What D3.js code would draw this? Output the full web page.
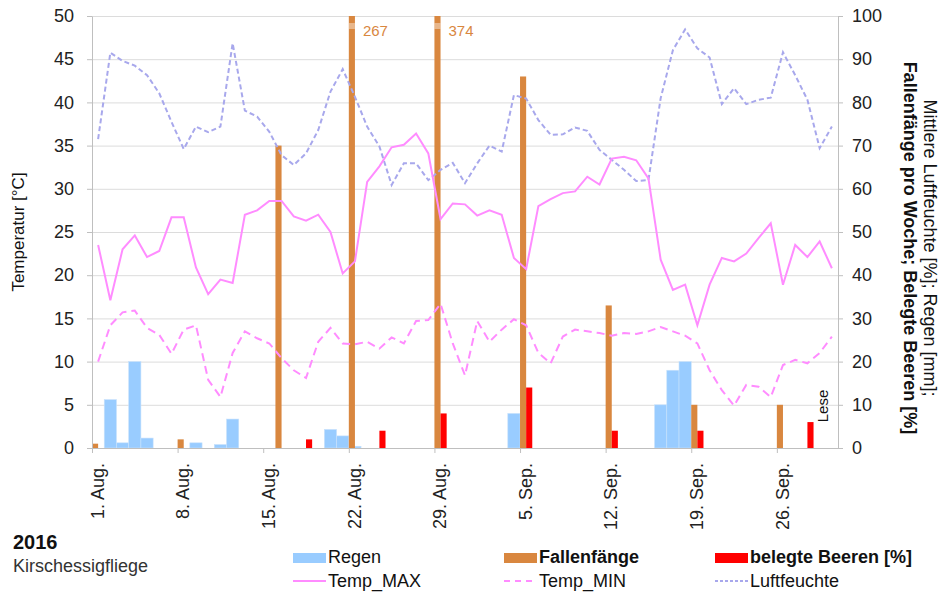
<!DOCTYPE html>
<html>
<head>
<meta charset="utf-8">
<script src="https://cdn.jsdelivr.net/npm/d3@7"></script>
<style>
  body { margin: 0; background: #fff; }
  text { font-family: "Liberation Sans", Arial, sans-serif; }
</style>
</head>
<body>
<script>
// Kirschessigfliege 2016 - daily weather + weekly trap catches

const dayCount = 61; // 1. Aug. .. 30. Sep.
const tickDays = [0, 7, 14, 21, 28, 35, 42, 49, 56];
const tickLabels = ["1. Aug.", "8. Aug.", "15. Aug.", "22. Aug.", "29. Aug.",
  "5. Sep.", "12. Sep.", "19. Sep.", "26. Sep."];

// rain [mm] per day
const regen = [0, 11.2, 1.2, 20, 2.3, 0, 0, 0, 1.2, 0, 0.8, 6.7, 0, 0, 0, 0,
  0, 0, 0, 4.3, 2.8, 0.4, 0, 0, 0, 0, 0, 0, 0, 0, 0, 0, 0, 0, 8, 0, 0, 0, 0, 0,
  0, 0, 0, 0, 0, 0, 10, 18, 20, 0, 0, 0, 0, 0, 0, 0, 0, 0, 0, 0, 0];

// trap catches per week
const trapDays = [0, 7, 15, 21, 28, 35, 42, 49, 56];
const trapCounts = [1, 2, 70, 267, 374, 86, 33, 10, 10];

// infested berries [%]
const berryDays = [17, 23, 28, 35, 42, 49, 58];
const berryPct = [2, 4, 8, 14, 4, 4, 6];

const tempMax = [23.5, 17.1, 23.0, 24.6, 22.1, 22.8, 26.7, 26.7, 20.9, 17.8,
  19.5, 19.1, 27.0, 27.5, 28.6, 28.6, 26.8, 26.3, 27.0, 25.0,
  20.2, 21.6, 30.8, 32.6, 34.8, 35.1, 36.4, 34.1, 26.5, 28.3,
  28.2, 26.9, 27.5, 27.0, 22.0, 20.7, 28.0, 28.8, 29.5, 29.7,
  31.4, 30.5, 33.5, 33.7, 33.3, 31.2, 21.8, 18.3, 18.9, 14.2,
  18.9, 22.0, 21.6, 22.5, 24.3, 26.0, 18.9, 23.5, 22.1, 23.9, 20.8];

const tempMin = [10.0, 14.2, 15.7, 15.9, 13.9, 13.1, 10.9, 13.7, 14.2, 7.9, 5.9,
  11.0, 13.5, 12.7, 12.1, 10.4, 9.0, 8.1, 12.3, 13.9, 12.1, 12.0,
  12.3, 11.5, 12.8, 12.1, 14.7, 14.8, 16.7, 12.1, 8.4, 14.7, 12.3,
  13.7, 14.9, 14.2, 11.0, 9.8, 12.9, 13.7, 13.5, 13.3, 13.0, 13.3,
  13.2, 13.5, 14.0, 13.5, 13.0, 12.1, 9.0, 6.7, 4.9, 7.3, 7.1,
  5.9, 9.6, 10.2, 9.8, 11.0, 12.9];

const luftfeuchte = [71.5, 91.5, 89.6, 88.5, 86.3, 82.1, 75.5, 69.2, 74.4, 73.1, 74.4,
  93.7, 78.1, 76.7, 73.2, 67.8, 65.5, 68.2, 73.6, 82.5, 87.7, 81.3,
  74.4, 69.8, 60.9, 65.9, 65.9, 62.0, 64.4, 66.0, 61.3, 65.9, 70.0,
  68.6, 81.7, 80.9, 75.9, 72.5, 72.6, 74.2, 73.4, 69.0, 66.7, 64.4,
  61.8, 62.0, 81.0, 92.1, 96.9, 92.5, 90.4, 79.6, 83.3, 79.6, 80.6,
  81.1, 91.6, 86.3, 80.6, 69.4, 74.4];

const w = 942;
const h = 592;
const plotLeft = 92, plotRight = 838, plotTop = 16, plotBottom = 448;

const cBlue = "#99ccff", cOrange = "#d9873f", cRed = "#ff0000";
const cPink = "#ff8cff", cLav = "#a8a8ec";

const svg = d3.select("body").append("svg").attr("width", w).attr("height", h);

const days = d3.range(dayCount);
const xBand = d3.scaleBand().domain(days).range([plotLeft, plotRight]).padding(0);
const xDay = d3.scaleLinear().domain([0, dayCount]).range([plotLeft, plotRight]);
const sub = d3.scaleBand().domain(["trap", "berry"]).range([0, xBand.bandwidth()]);
const yT = d3.scaleLinear().domain([0, 50]).range([plotBottom, plotTop]);
const yR = d3.scaleLinear().domain([0, 100]).range([plotBottom, plotTop]);

// gridlines
svg.append("g")
  .attr("transform", `translate(${plotLeft},0)`)
  .call(d3.axisLeft(yT).tickValues(d3.range(0, 51, 5)).tickSize(-(plotRight - plotLeft)).tickFormat(""))
  .call(g => g.select(".domain").remove())
  .call(g => g.selectAll("line").attr("stroke", "#dcdcdc"));

// rain bars
svg.append("g").selectAll("rect")
  .data(days.filter(i => regen[i] > 0))
  .join("rect")
  .attr("x", i => xBand(i))
  .attr("width", xBand.bandwidth())
  .attr("y", i => yR(regen[i]))
  .attr("height", i => plotBottom - yR(regen[i]))
  .attr("fill", cBlue)
  .attr("stroke", "#c8e2fc")
  .attr("stroke-width", 0.6);

// trap bars (clipped at 100 with break marks)
const trapG = svg.append("g");
trapDays.forEach((d, k) => {
  const v = trapCounts[k];
  const x0 = xBand(d) + sub("trap");
  const bw = sub.bandwidth();
  trapG.append("rect")
    .attr("x", x0).attr("width", bw)
    .attr("y", yR(Math.min(v, 100)))
    .attr("height", plotBottom - yR(Math.min(v, 100)))
    .attr("fill", cOrange);
  if (v > 100) {
    [24, 26, 28].forEach(yy => {
      trapG.append("line")
        .attr("x1", x0).attr("x2", x0 + bw)
        .attr("y1", yy).attr("y2", yy)
        .attr("stroke", "#fff").attr("stroke-width", 0.8);
    });
    trapG.append("text")
      .attr("x", x0 + bw + 8).attr("y", 36)
      .attr("fill", cOrange)
      .style("font-size", "15px")
      .text(v);
  }
});

// infested berries
svg.append("g").selectAll("rect")
  .data(berryDays)
  .join("rect")
  .attr("x", d => xBand(d) + sub("berry"))
  .attr("width", sub.bandwidth())
  .attr("y", (d, k) => yR(berryPct[k]))
  .attr("height", (d, k) => plotBottom - yR(berryPct[k]))
  .attr("fill", cRed);

// lines
const lineT = d3.line().x((d, i) => xDay(i + 0.5)).y(d => yT(d));
const lineR = d3.line().x((d, i) => xDay(i + 0.5)).y(d => yR(d));

svg.append("path").datum(luftfeuchte).attr("d", lineR)
  .attr("fill", "none").attr("stroke", cLav).attr("stroke-width", 2)
  .attr("stroke-dasharray", "5,3");
svg.append("path").datum(tempMin).attr("d", lineT)
  .attr("fill", "none").attr("stroke", cPink).attr("stroke-width", 2)
  .attr("stroke-dasharray", "8,5");
svg.append("path").datum(tempMax).attr("d", lineT)
  .attr("fill", "none").attr("stroke", cPink).attr("stroke-width", 2);

// axes
function styleAxis(g) {
  g.select(".domain").attr("stroke", "#bfbfbf");
  g.selectAll(".tick line").attr("stroke", "#bfbfbf");
  g.selectAll(".tick text").attr("fill", "#222").style("font-size", "18px")
    .style("font-family", '"Liberation Sans", Arial, sans-serif');
}

svg.append("g")
  .attr("transform", `translate(${plotLeft},0)`)
  .call(d3.axisLeft(yT).tickValues(d3.range(0, 51, 5)).tickSizeInner(5).tickSizeOuter(0).tickPadding(13))
  .call(styleAxis);

svg.append("g")
  .attr("transform", `translate(${plotRight},0)`)
  .call(d3.axisRight(yR).tickValues(d3.range(0, 101, 10)).tickSizeInner(5).tickSizeOuter(0).tickPadding(9))
  .call(styleAxis);

svg.append("g")
  .attr("transform", `translate(0,${plotBottom})`)
  .call(d3.axisBottom(xDay).tickValues(tickDays).tickFormat((d, i) => tickLabels[i])
    .tickSizeInner(5).tickSizeOuter(0))
  .call(styleAxis)
  .call(g => g.selectAll(".tick text")
    .attr("transform", "rotate(-90)")
    .attr("x", -15).attr("y", 5)
    .attr("dy", "0.35em")
    .attr("text-anchor", "end"));

// axis titles
svg.append("text")
  .attr("transform", "translate(18,232) rotate(-90)")
  .attr("text-anchor", "middle").attr("dominant-baseline", "central")
  .style("font-size", "17px").attr("fill", "#111")
  .text("Temperatur [°C]");

svg.append("text")
  .attr("transform", "translate(930,248) rotate(90)")
  .attr("text-anchor", "middle").attr("dominant-baseline", "central")
  .style("font-size", "18px").attr("fill", "#111")
  .text("Mittlere Luftfeuchte [%]; Regen [mm];");

svg.append("text")
  .attr("transform", "translate(910,248) rotate(90)")
  .attr("text-anchor", "middle").attr("dominant-baseline", "central")
  .style("font-size", "18px").style("font-weight", "bold").attr("fill", "#111")
  .text("Fallenfänge pro Woche; Belegte Beeren [%]");

// harvest note
svg.append("text")
  .attr("transform", "translate(822,406) rotate(-90)")
  .attr("text-anchor", "middle").attr("dominant-baseline", "central")
  .style("font-size", "15px").attr("fill", "#111")
  .text("Lese");

// title block
svg.append("text").attr("x", 13).attr("y", 549)
  .style("font-size", "20px").style("font-weight", "bold").attr("fill", "#111")
  .text("2016");
svg.append("text").attr("x", 13).attr("y", 572)
  .style("font-size", "18px").attr("fill", "#333")
  .text("Kirschessigfliege");

// legend
const legendBars = [
  { label: "Regen", color: cBlue, x: 293, bold: false },
  { label: "Fallenfänge", color: cOrange, x: 504, bold: true },
  { label: "belegte Beeren [%]", color: cRed, x: 715, bold: true }
];
const legendLines = [
  { label: "Temp_MAX", color: cPink, x: 293, dash: null },
  { label: "Temp_MIN", color: cPink, x: 504, dash: "6,5" },
  { label: "Luftfeuchte", color: cLav, x: 715, dash: "3,2" }
];

legendBars.forEach(d => {
  svg.append("rect").attr("x", d.x).attr("y", 553).attr("width", 33).attr("height", 10)
    .attr("fill", d.color);
  svg.append("text").attr("x", d.x + 35).attr("y", 563)
    .style("font-size", "18px").style("font-weight", d.bold ? "bold" : "normal")
    .attr("fill", "#111").text(d.label);
});
legendLines.forEach(d => {
  svg.append("line").attr("x1", d.x).attr("x2", d.x + 33).attr("y1", 581).attr("y2", 581)
    .attr("stroke", d.color).attr("stroke-width", 2)
    .attr("stroke-dasharray", d.dash);
  svg.append("text").attr("x", d.x + 35).attr("y", 587)
    .style("font-size", "18px").attr("fill", "#111").text(d.label);
});
</script>
</body>
</html>
